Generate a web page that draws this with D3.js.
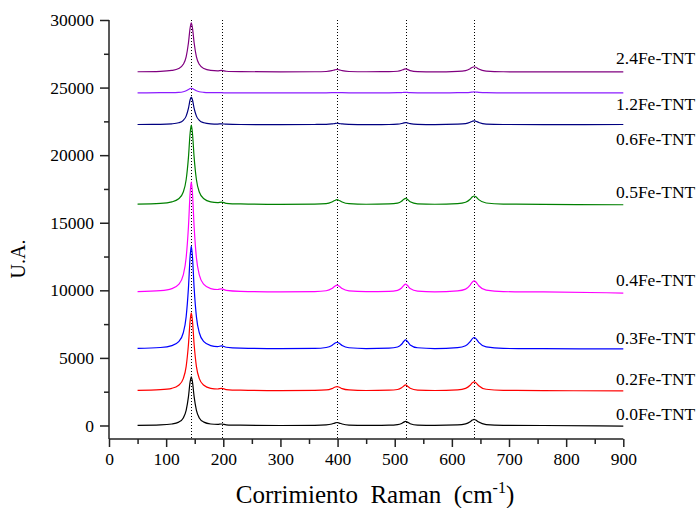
<!DOCTYPE html>
<html>
<head>
<meta charset="utf-8">
<script src="https://cdn.jsdelivr.net/npm/d3@7"></script>
<style>
  html, body { margin: 0; padding: 0; background: #fff; }
  svg { display: block; }
  svg text { font-family: "Liberation Serif", "Times New Roman", serif; }
</style>
</head>
<body>
<svg id="chart" width="699" height="508"></svg>
<script>
// Raman shift sampling points (cm-1)
const ramanShift = [50, 90, 110, 122, 130, 135, 139, 142, 144, 146, 149, 153, 158, 166, 178, 190, 197, 205, 230, 300,
  360, 380, 390, 395, 399, 403, 408, 420, 450, 490, 505, 512, 516, 519, 522, 527, 540, 570,
  610, 624, 632, 636, 639, 642, 647, 660, 690, 760, 900];

// Intensities (offset stacks, a.u.) for each sample
const fe00 = [10, 40, 110, 250, 560, 1120, 2120, 3240, 3600, 3240, 2120, 1120, 560, 250, 110, 80, 110, 50, 20, 0,
  10, 40, 110, 180, 220, 180, 110, 30, 10, 20, 60, 150, 250, 300, 250, 130, 30, 10,
  40, 120, 280, 400, 450, 400, 250, 70, 10, 0, -50];
const fe02 = [2600, 2650, 2750, 2980, 3470, 4360, 5970, 7760, 8330, 7760, 5970, 4360, 3470, 2980, 2750, 2700, 2750, 2660, 2610, 2580,
  2600, 2630, 2730, 2830, 2880, 2830, 2730, 2630, 2590, 2610, 2660, 2790, 2930, 3000, 2930, 2760, 2620, 2590,
  2640, 2750, 2980, 3170, 3230, 3170, 2940, 2680, 2600, 2580, 2560];
const fe03 = [5710, 5770, 5910, 6200, 6860, 8040, 10160, 12520, 13280, 12520, 10160, 8040, 6860, 6200, 5910, 5840, 5890, 5790, 5720, 5690,
  5700, 5770, 5920, 6080, 6160, 6080, 5920, 5750, 5690, 5720, 5810, 6010, 6230, 6340, 6230, 5960, 5750, 5690,
  5760, 5900, 6200, 6430, 6510, 6430, 6150, 5810, 5700, 5680, 5670];
const fe04 = [9910, 9980, 10130, 10440, 11140, 12410, 14690, 17220, 18030, 17220, 14690, 12410, 11140, 10440, 10130, 10060, 10110, 9990, 9920, 9890,
  9910, 9970, 10130, 10300, 10380, 10300, 10130, 9960, 9900, 9920, 10000, 10170, 10370, 10460, 10370, 10130, 9940, 9890,
  9960, 10090, 10390, 10620, 10700, 10620, 10340, 10010, 9900, 9880, 9800];
const fe05 = [16380, 16430, 16540, 16770, 17270, 18180, 19820, 21640, 22230, 21640, 19820, 18180, 17270, 16770, 16540, 16490, 16530, 16440, 16390, 16360,
  16380, 16420, 16540, 16650, 16710, 16650, 16540, 16410, 16370, 16390, 16450, 16590, 16740, 16810, 16740, 16550, 16400, 16370,
  16420, 16520, 16740, 16920, 16980, 16920, 16710, 16460, 16380, 16360, 16330];
const fe06 = [22270, 22280, 22320, 22400, 22580, 22890, 23460, 24100, 24300, 24100, 23460, 22890, 22580, 22400, 22320, 22300, 22320, 22290, 22270, 22260,
  22270, 22280, 22310, 22340, 22360, 22340, 22310, 22280, 22260, 22270, 22290, 22340, 22390, 22410, 22390, 22330, 22280, 22260,
  22290, 22330, 22430, 22510, 22540, 22510, 22420, 22300, 22270, 22260, 22270];
const fe12 = [24610, 24620, 24620, 24640, 24690, 24760, 24860, 24930, 24950, 24930, 24860, 24760, 24690, 24650, 24630, 24620, 24620, 24610, 24610, 24610,
  24610, 24610, 24620, 24630, 24630, 24630, 24620, 24610, 24610, 24610, 24620, 24630, 24640, 24640, 24640, 24620, 24610, 24610,
  24620, 24630, 24650, 24670, 24680, 24670, 24650, 24620, 24610, 24610, 24610];
const fe24 = [26170, 26200, 26270, 26410, 26720, 27280, 28300, 29420, 29780, 29420, 28300, 27280, 26720, 26410, 26270, 26240, 26270, 26210, 26180, 26160,
  26170, 26190, 26250, 26310, 26340, 26310, 26250, 26190, 26170, 26180, 26210, 26280, 26350, 26390, 26350, 26260, 26180, 26160,
  26200, 26260, 26400, 26500, 26540, 26500, 26370, 26220, 26170, 26160, 26160];

const sampleNames = ["0.0Fe-TNT", "0.2Fe-TNT", "0.3Fe-TNT", "0.4Fe-TNT", "0.5Fe-TNT", "0.6Fe-TNT", "1.2Fe-TNT", "2.4Fe-TNT"];
const sampleColors = ["#000000", "#ff0000", "#0000ff", "#ff00ff", "#008000", "#000080", "#8c1cff", "#800080"];
const sampleSeries = [fe00, fe02, fe03, fe04, fe05, fe06, fe12, fe24];

// Anatase reference band positions (cm-1)
const bandPositions = [144, 197, 399, 519, 639];

const xTicks = [0, 100, 200, 300, 400, 500, 600, 700, 800, 900];
const yTicks = [0, 5000, 10000, 15000, 20000, 25000, 30000];

const svg = d3.select("#chart");
const x = d3.scaleLinear().domain([0, 900]).range([109, 623.3]);
const y = d3.scaleLinear().domain([-1000, 30000]).range([439, 20]);

// reference band markers
svg.append("g").selectAll("line").data(bandPositions).join("line")
  .attr("x1", d => Math.round(x(d)) + 0.5).attr("x2", d => Math.round(x(d)) + 0.5)
  .attr("y1", y(30000)).attr("y2", y(-1000))
  .attr("stroke", "#000").attr("stroke-width", 1).attr("stroke-dasharray", "1,2");

// spectra
const line = d3.line().x(d => x(d[0])).y(d => y(d[1])).curve(d3.curveMonotoneX);
sampleSeries.forEach((vals, i) => {
  svg.append("path")
    .datum(ramanShift.map((s, k) => [s, vals[k]]))
    .attr("fill", "none")
    .attr("stroke", sampleColors[i])
    .attr("stroke-width", 1.2)
    .attr("d", line);
});

// sample labels at the right
const labelY = [414, 379, 337.5, 280, 191.5, 138.5, 104, 58];
sampleNames.forEach((name, i) => {
  svg.append("text")
    .attr("x", 616).attr("y", labelY[i])
    .attr("dy", "0.35em")
    .attr("font-size", "17.5px")
    .attr("fill", "#000")
    .text(name);
});

// axes
const xAxis = d3.axisBottom(x).tickValues(xTicks).tickFormat(d3.format("d")).tickSize(8).tickPadding(6);
const xMinor = d3.axisBottom(x).tickValues(d3.range(50, 900, 100)).tickFormat("").tickSize(5);
const yAxis = d3.axisLeft(y).tickValues(yTicks).tickFormat(d3.format("d")).tickSize(9).tickPadding(6);
const yMinor = d3.axisLeft(y).tickValues(d3.range(2500, 30000, 5000)).tickFormat("").tickSize(5);

function styleAxis(g) {
  g.attr("font-family", null);
  g.select(".domain").attr("stroke", "#222").attr("stroke-width", 1.5);
  g.selectAll(".tick line").attr("stroke", "#222").attr("stroke-width", 1.5);
  g.selectAll(".tick text").attr("font-size", "17.5px").attr("fill", "#000");
}

const gx = svg.append("g").attr("transform", "translate(0,439)").call(xAxis).call(styleAxis);
gx.select(".domain").attr("d", `M${x(0)},0H${x(900)}`);
const gxm = svg.append("g").attr("transform", "translate(0,439)").call(xMinor).call(styleAxis);
gxm.select(".domain").remove();

const gy = svg.append("g").attr("transform", "translate(109,0)").call(yAxis).call(styleAxis);
gy.select(".domain").attr("d", `M0,${y(-1000)}V${y(30000)}`);
const gym = svg.append("g").attr("transform", "translate(109,0)").call(yMinor).call(styleAxis);
gym.select(".domain").remove();

// axis titles
const xTitle = svg.append("text")
  .attr("x", 375).attr("y", 503)
  .attr("text-anchor", "middle")
  .attr("font-size", "25px")
  .attr("fill", "#000")
  .style("white-space", "pre");
xTitle.append("tspan").text("Corrimiento  Raman  (cm");
xTitle.append("tspan").attr("dy", "-10").attr("font-size", "16px").text("-1");
xTitle.append("tspan").attr("dy", "10").text(")");

svg.append("text")
  .attr("transform", "translate(25,259) rotate(-90)")
  .attr("text-anchor", "middle")
  .attr("font-size", "20px")
  .attr("fill", "#000")
  .text("U.A.");
</script>
</body>
</html>
